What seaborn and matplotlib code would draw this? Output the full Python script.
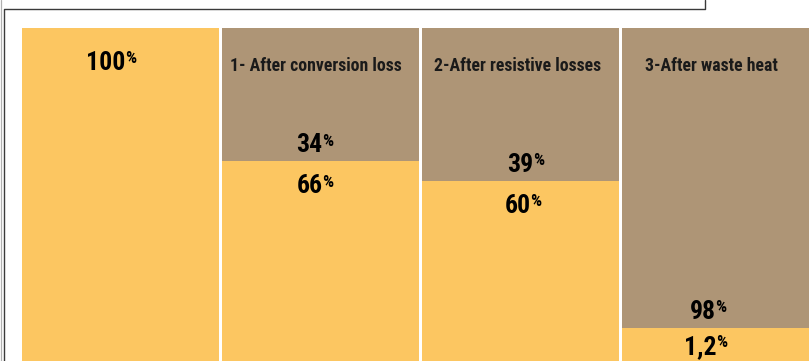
import numpy as np
import pandas as pd
import matplotlib
matplotlib.use("Agg")
import matplotlib.pyplot as plt
from matplotlib import font_manager
from matplotlib.lines import Line2D
import seaborn as sns

# Energy remaining after each stage, and the share lost at that stage (%)
stages = ["Start", "Conversion", "Resistive", "Waste heat"]
stage_titles = ["", "1- After conversion loss", "2-After resistive losses", "3-After waste heat"]
lost = [0, 34, 39, 98]
remaining = [100, 66, 60, 1.2]
lost_labels = ["", "34", "39", "98"]
remaining_labels = ["100", "66", "60", "1,2"]

YELLOW = "#FCC661"
BROWN = "#AE9576"

# label nudges in each column (pixels)
title_dx = [0, -5, -2.5, -9]
lost_dx = [0, -11, -0.5, -18]
remaining_dx = [-15, -11, -3, -20]
remaining_dy = [42, 32, 32, 26]

sns.set_theme(style="white")

available = {f.name for f in font_manager.fontManager.ttflist}
narrow = None
for name in ["Roboto Condensed", "Liberation Sans Narrow", "DejaVu Sans"]:
    if name in available:
        narrow = name
        break
fam = [narrow, "DejaVu Sans"]
plt.rcParams["font.family"] = fam

W, H = 809, 361
PT = 0.72  # points per pixel at 100 dpi
fig = plt.figure(figsize=(W / 100, H / 100), dpi=100)

# axes: bars start 28 px below the top edge, columns 200 px apart
ax = fig.add_axes([0, 0, 1, 1 - 28 / H])

df = pd.DataFrame({"stage": stages,
                   "total": np.array(lost) + np.array(remaining),
                   "lost": lost})

sns.barplot(data=df, x="stage", y="total", order=stages, color=YELLOW,
            saturation=1, width=0.985, linewidth=0, ax=ax)
sns.barplot(data=df, x="stage", y="lost", order=stages, color=BROWN,
            saturation=1, width=0.985, linewidth=0, ax=ax)

# value axis drawn from the top down, with the last few percent widened
kv = [0, 39, 98, 100]
kp = [0, 153, 300, 400]
fwd = lambda v: np.interp(v, kv, kp)
inv = lambda p: np.interp(p, kp, kv)
ax.set_yscale("function", functions=(fwd, inv))
ax.set_ylim(inv(333), 0)
ax.set_xlim(-120.5 / 200, (W - 120.5) / 200)
ax.set_axis_off()

num_kw = dict(fontsize=18.5, fontweight="bold", color="black", family=fam)
pct_kw = dict(fontsize=12.5, fontweight="bold", color="black", family=fam)


def value_label(x, y, text, dx_px, dy_px, row_axes=False):
    coords = ("data", "axes fraction") if row_axes else "data"
    t = ax.annotate(text, xy=(x, 1 if row_axes else y), xycoords=coords,
                    xytext=(dx_px * PT, -dy_px * PT), textcoords="offset points",
                    ha="center", va="baseline", **num_kw)
    ax.annotate("%", xy=(1, 1), xycoords=t, xytext=(-0.3, -0.2),
                textcoords="offset points", ha="left", va="top", **pct_kw)


for i in range(len(stages)):
    if stage_titles[i]:
        ax.annotate(stage_titles[i], xy=(i, 1), xycoords=("data", "axes fraction"),
                    xytext=(title_dx[i] * PT, -43 * PT), textcoords="offset points",
                    ha="center", va="baseline", fontsize=12.8, fontweight="bold",
                    color="#1a1a1a", family=fam)
    if lost[i] > 0:
        value_label(i, lost[i], lost_labels[i], lost_dx[i], -9)
        value_label(i, lost[i], remaining_labels[i], remaining_dx[i], remaining_dy[i])
    else:
        value_label(i, 0, remaining_labels[i], remaining_dx[i], remaining_dy[i],
                    row_axes=True)

# frame of the panel above and at the left
fig.add_artist(Line2D([1.2 / W, 1.2 / W], [0, 1], transform=fig.transFigure,
                      color="#b0b0b0", lw=0.9))
fig.add_artist(Line2D([705 / W, 705 / W, 4 / W, 4 / W],
                      [1, 1 - 8.5 / H, 1 - 8.5 / H, 0],
                      transform=fig.transFigure, color="#3a3a3a", lw=1.0))

fig.savefig("out.png", dpi=100)
